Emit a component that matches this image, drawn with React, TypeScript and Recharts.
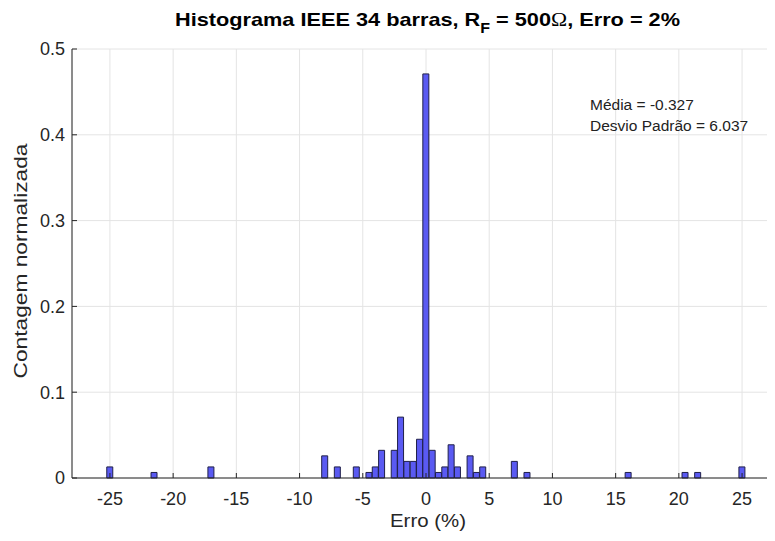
import React from "react";
import { BarChart, Bar, XAxis, YAxis, CartesianGrid } from "recharts";

// histogram of the estimation error: bin centres (%) and raw counts of each non-empty bin (width 0.5)
const binCenters = [
  -25, -21.5, -17, -8, -7, -5.5, -4.5, -4, -3.5, -2.5, -2, -1.5, -1, -0.5, 0,
  0.5, 1, 1.5, 2, 2.5, 3.5, 4, 4.5, 7, 8, 16, 20.5, 21.5, 25,
];
const binCounts = [
  2, 1, 2, 4, 2, 2, 1, 2, 5, 5, 11, 3, 3, 7, 73,
  5, 1, 2, 6, 2, 4, 1, 2, 3, 1, 1, 1, 1, 2,
];

const xTicks = [-25, -20, -15, -10, -5, 0, 5, 10, 15, 20, 25];
const yTicks = [0, 0.1, 0.2, 0.3, 0.4, 0.5];

const mediaText = "Média = -0.327";
const desvioText = "Desvio Padrão = 6.037";

// normalise counts so the bars sum to 1
const total = binCounts.reduce((a, b) => a + b, 0);
const data = binCenters.map((x, i) => ({ x, p: binCounts[i] / total }));

const FONT = "'Liberation Sans', Arial, Helvetica, sans-serif";
const AXIS = "#262626";

export default function App() {
  return (
    <div style={{ width: 767, height: 525, overflow: "hidden" }}>
      <BarChart
        width={780}
        height={525}
        data={data}
        barCategoryGap={0}
        barGap={0}
        margin={{ top: 41, right: 8, left: 10, bottom: 0 }}
        style={{ fontFamily: FONT }}
      >
        <CartesianGrid stroke="#e4e4e4" />
        <Bar
          dataKey="p"
          fill="#5a5af2"
          stroke="#20204a"
          strokeWidth={1}
          isAnimationActive={false}
        />
        <XAxis
          dataKey="x"
          type="number"
          domain={[-28, 28]}
          ticks={xTicks}
          interval={0}
          height={55}
          tickSize={-5}
          tickMargin={19}
          stroke={AXIS}
          tick={{ fill: AXIS, fontSize: 18 }}
        />
        <XAxis
          xAxisId="top"
          dataKey="x"
          type="number"
          orientation="top"
          domain={[-28, 28]}
          ticks={xTicks}
          interval={0}
          height={0}
          tickSize={-5}
          tickFormatter={() => ""}
          stroke={AXIS}
        />
        <YAxis
          type="number"
          domain={[0, 0.5]}
          ticks={yTicks}
          interval={0}
          width={54}
          tickSize={-5}
          tickMargin={12}
          stroke={AXIS}
          tick={{ fill: AXIS, fontSize: 18 }}
        />

        <text
          x={419.5}
          y={18}
          textAnchor="middle"
          fontFamily={FONT}
          fontWeight="bold"
          fontSize={19}
          fill="#000"
          textLength={505}
          lengthAdjust="spacingAndGlyphs"
        >
          Histograma IEEE 34 barras, R
          <tspan fontSize={14} dy={7}>F</tspan>
          <tspan dy={-7}> = 500</tspan>
          <tspan fontFamily="'Liberation Serif', serif" fontWeight="normal">Ω</tspan>
          <tspan>, Erro = 2%</tspan>
        </text>

        <text x={582} y={102} fontFamily={FONT} fontSize={15.5} fill="#222">
          {mediaText}
        </text>
        <text x={582} y={123} fontFamily={FONT} fontSize={15.5} fill="#222">
          {desvioText}
        </text>

        <text
          x={420}
          y={519}
          textAnchor="middle"
          fontFamily={FONT}
          fontSize={19}
          fill={AXIS}
          textLength={76}
          lengthAdjust="spacingAndGlyphs"
        >
          Erro (%)
        </text>
        <text
          x={19}
          y={253}
          textAnchor="middle"
          fontFamily={FONT}
          fontSize={19}
          fill={AXIS}
          textLength={235}
          lengthAdjust="spacingAndGlyphs"
          transform="rotate(-90, 19, 253)"
        >
          Contagem normalizada
        </text>
      </BarChart>
    </div>
  );
}
